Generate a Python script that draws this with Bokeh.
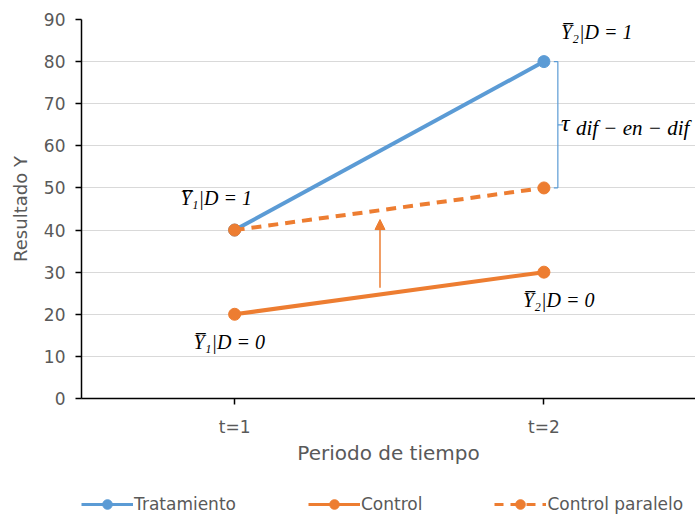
from bokeh.plotting import figure
from bokeh.models import Legend, LegendItem, Arrow, NormalHead, FixedTicker
from bokeh.layouts import column
from bokeh.core.properties import value
from bokeh.embed import file_html
from bokeh.resources import INLINE

# ---- data ----
periods = [1, 2]
period_labels = ["t=1", "t=2"]
tratamiento = [40, 80]
control = [20, 30]
control_paralelo = [40, 50]
y_ticks = [0, 10, 20, 30, 40, 50, 60, 70, 80, 90]
series_names = ["Tratamiento", "Control", "Control paralelo"]

BLUE = "#5B9BD5"
ORANGE = "#ED7D31"
GRAY = "#595959"

p = figure(width=695, height=486, x_range=(0.505, 2.49), y_range=(0, 90),
           output_backend="svg", toolbar_location=None,
           min_border_left=81, min_border_right=0, min_border_top=19,
           min_border_bottom=88)
p.outline_line_color = None
p.background_fill_color = "white"

# axes
p.xaxis.ticker = FixedTicker(ticks=periods)
p.xaxis.major_label_overrides = {pv: lab for pv, lab in zip(periods, period_labels)}
p.yaxis.ticker = FixedTicker(ticks=y_ticks)
p.xaxis.minor_tick_line_color = None
p.yaxis.minor_tick_line_color = None
for ax in (p.xaxis, p.yaxis):
    ax.axis_line_color = "black"
    ax.axis_line_width = 1.5
    ax.major_tick_line_color = "black"
    ax.major_tick_line_width = 1.5
    ax.major_tick_out = 6
    ax.major_tick_in = 0
    ax.major_label_text_color = GRAY
    ax.axis_label_text_color = GRAY
    ax.axis_label_text_font_style = "normal"
    ax.major_label_text_font = "DejaVu Sans"
    ax.axis_label_text_font = "DejaVu Sans"
p.yaxis.major_label_text_font_size = "17px"
p.yaxis.axis_label = "Resultado Y"
p.yaxis.axis_label_text_font_size = "18px"
p.yaxis.major_label_standoff = 10
p.yaxis.axis_label_standoff = 10
p.xaxis.major_label_text_font_size = "17px"
p.xaxis.axis_label = "Periodo de tiempo"
p.xaxis.axis_label_text_font_size = "20px"
p.xaxis.major_label_standoff = 12
p.xaxis.axis_label_standoff = 1

p.xgrid.grid_line_color = None
p.ygrid.grid_line_color = "#d9d9d9"
p.ygrid.grid_line_width = 1

# series
p.line(periods, tratamiento, line_color=BLUE, line_width=4)
p.scatter(periods, tratamiento, size=12, fill_color=BLUE, line_color=BLUE)
p.line(periods, control, line_color=ORANGE, line_width=4)
p.scatter(periods, control, size=12, fill_color=ORANGE, line_color=ORANGE)
p.line(periods, control_paralelo, line_color=ORANGE, line_width=4, line_dash="10 7")
p.scatter(periods, control_paralelo, size=12, fill_color=ORANGE, line_color=ORANGE)

# arrow (parallel shift)
p.add_layout(Arrow(end=NormalHead(size=10, fill_color=ORANGE, line_color=ORANGE),
                   x_start=1.47, y_start=26.3, x_end=1.47, y_end=42.5,
                   line_color=ORANGE, line_width=1.5))

# bracket
bx = 2.045
p.segment(x0=[bx, bx - 0.013, bx - 0.013, bx], y0=[80, 80, 50, 65],
          x1=[bx, bx, bx, bx + 0.016], y1=[50, 80, 50, 65],
          line_color=BLUE, line_width=1.2)

# annotations
serif = value("Liberation Serif")
lab_kw = dict(text_font=serif, text_font_style="italic", text_font_size="20px",
              text_color="black", text_baseline="middle", text_align="left")
p.text(x=[2.055], y=[87.0], text=["Y\u0305\u2082|D = 1"], **lab_kw)
p.text(x=[0.825], y=[47.5], text=["Y\u0305\u2081|D = 1"], **lab_kw)
p.text(x=[1.932], y=[23.3], text=["Y\u0305\u2082|D = 0"], **lab_kw)
p.text(x=[0.867], y=[13.5], text=["Y\u0305\u2081|D = 0"], **lab_kw)
p.text(x=[2.055], y=[65.5], text=["\u03c4"], text_font=serif,
       text_font_style="italic", text_font_size="24px", text_color="black",
       text_baseline="middle", text_align="left")
p.text(x=[2.055], y=[65.5], text=["dif \u2212 en \u2212 dif"], text_font=serif,
       text_font_style="italic", text_font_size="21px", text_color="black",
       text_baseline="middle", text_align="left", x_offset=15, y_offset=5)

# ---- legend strip (separate figure below the chart) ----
lg = figure(width=695, height=30, x_range=(0, 1), y_range=(0, 1),
            output_backend="svg", toolbar_location=None,
            min_border=0, min_border_left=0, min_border_right=0,
            min_border_top=0, min_border_bottom=0)
lg.axis.visible = False
lg.grid.visible = False
lg.outline_line_color = None
far = [50]
l1 = lg.line(far, far, line_color=BLUE, line_width=3)
m1 = lg.scatter(far, far, size=12, fill_color=BLUE, line_color=BLUE)
l2 = lg.line(far, far, line_color=ORANGE, line_width=3)
m2 = lg.scatter(far, far, size=12, fill_color=ORANGE, line_color=ORANGE)
l3 = lg.line(far, far, line_color=ORANGE, line_width=3, line_dash="9 7")
m3 = lg.scatter(far, far, size=12, fill_color=ORANGE, line_color=ORANGE)
legend = Legend(items=[
    LegendItem(label=series_names[0], renderers=[l1, m1]),
    LegendItem(label=series_names[1], renderers=[l2, m2]),
    LegendItem(label=series_names[2], renderers=[l3, m3]),
], orientation="horizontal", location=(0, 0),
    label_text_font="DejaVu Sans", label_text_font_size="17px",
    label_text_color=GRAY, glyph_width=52, glyph_height=24, spacing=72, padding=0,
    margin=0, label_standoff=1, border_line_color=None, background_fill_alpha=0)
lg.add_layout(legend, "center")

layout = column(p, lg, spacing=0)
open("out.html", "w").write(file_html(layout, INLINE))
